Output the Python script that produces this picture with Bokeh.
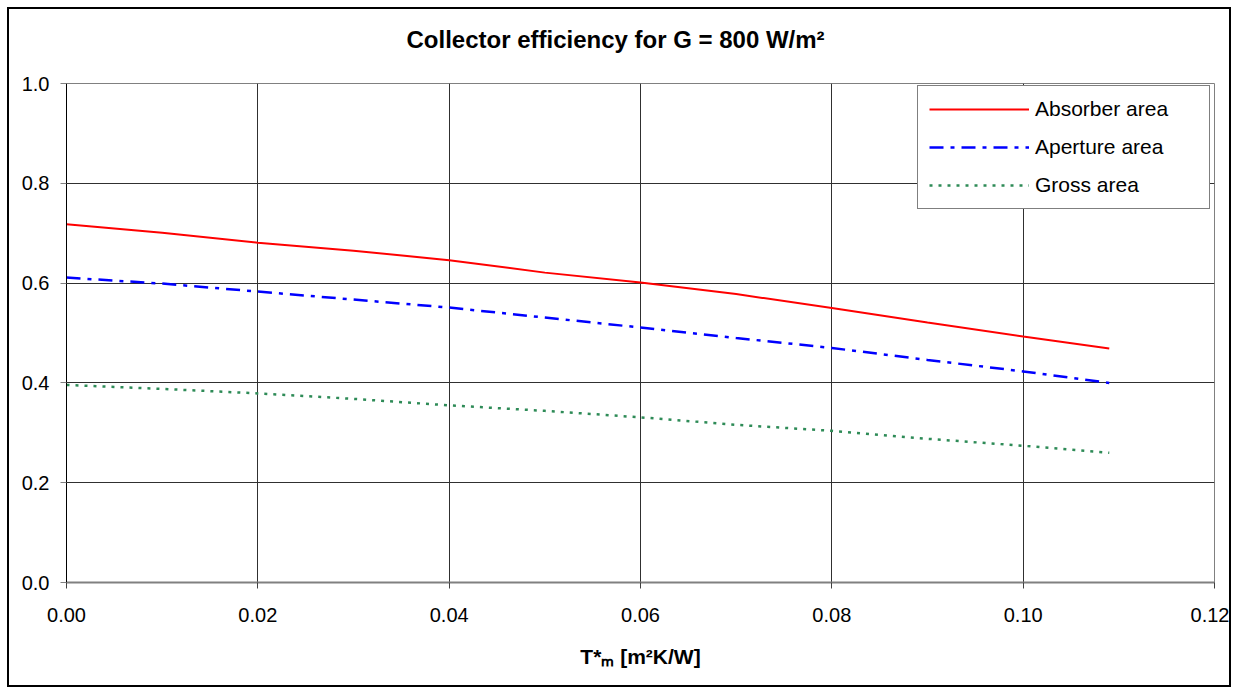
from bokeh.plotting import figure
from bokeh.models import (Range1d, FixedTicker, NumeralTickFormatter, Legend, LegendItem, Title)
from bokeh.embed import file_html
from bokeh.resources import INLINE

# ---- data ----
t_m = [0.0, 0.01, 0.02, 0.03, 0.04, 0.05, 0.06, 0.07, 0.08, 0.09, 0.10, 0.109]
absorber = [0.718, 0.701, 0.681, 0.665, 0.646, 0.621, 0.601, 0.578, 0.550, 0.521, 0.493, 0.469]
aperture = [0.611, 0.599, 0.583, 0.567, 0.551, 0.531, 0.511, 0.490, 0.470, 0.446, 0.423, 0.400]
gross = [0.396, 0.388, 0.379, 0.368, 0.355, 0.344, 0.331, 0.316, 0.304, 0.288, 0.274, 0.260]

x_ticks = [0.0, 0.02, 0.04, 0.06, 0.08, 0.10, 0.12]
y_ticks = [0.0, 0.2, 0.4, 0.6, 0.8, 1.0]

title_text = "Collector efficiency for G = 800 W/m²"
x_label = "T*ₘ [m²K/W]"
series_names = ["Absorber area", "Aperture area", "Gross area"]

FONT = "Liberation Sans"

p = figure(width=1224, height=680, output_backend="svg", toolbar_location=None,
           x_range=Range1d(0, 0.12), y_range=Range1d(0, 1.0),
           min_border_left=57, min_border_top=74, min_border_right=19, min_border_bottom=107,
           styles={"border": "2px solid black", "margin-left": "7px", "margin-top": "7px"})
p.background_fill_color = "white"
p.border_fill_color = "white"
p.outline_line_color = "#808080"
p.outline_line_width = 1

# title
p.title.text = title_text
p.title.align = "left"
p.title.offset = 340
p.title.standoff = 0
p.title.text_font = FONT
p.title.text_font_size = "24px"
p.title.text_font_style = "bold"
p.title.text_color = "black"

# spacer between the title and the frame (added last, so it sits next to the frame)
spacer = Title(text=" ", text_font_size="1px", standoff=28)
p.add_layout(spacer, "above")

# axes
p.xaxis.ticker = FixedTicker(ticks=x_ticks)
p.yaxis.ticker = FixedTicker(ticks=y_ticks)
p.xaxis.formatter = NumeralTickFormatter(format="0.00")
p.yaxis.formatter = NumeralTickFormatter(format="0.0")
for ax in (p.xaxis[0], p.yaxis[0]):
    ax.major_label_text_font = FONT
    ax.major_label_text_font_size = "20px"
    ax.major_label_text_color = "black"
    ax.minor_tick_line_color = None
    ax.major_tick_in = 0
    ax.major_tick_out = 6
p.xaxis.axis_line_color = "#808080"
p.xaxis.axis_line_width = 2
p.xaxis.major_tick_line_color = "#404040"
p.yaxis.axis_line_color = "black"
p.yaxis.major_tick_line_color = "#808080"
p.xaxis.major_label_standoff = 19
p.yaxis.major_label_standoff = 11

p.xaxis.axis_label = x_label
p.xaxis.axis_label_text_font = FONT
p.xaxis.axis_label_text_font_size = "21px"
p.xaxis.axis_label_text_font_style = "bold"
p.xaxis.axis_label_text_color = "black"
p.xaxis.axis_label_standoff = 20

p.xgrid.grid_line_color = "#303030"
p.ygrid.grid_line_color = "#303030"
p.xgrid.grid_line_width = 1
p.ygrid.grid_line_width = 1

# series
r1 = p.line(t_m, absorber, line_color="#FF0000", line_width=2)
r2 = p.line(t_m, aperture, line_color="#0000FF", line_width=2.5, line_dash="14 7 4 7")
r3 = p.line(t_m, gross, line_color="#2E8B57", line_width=2.5, line_dash="3 6")

legend = Legend(items=[LegendItem(label=series_names[0], renderers=[r1]),
                       LegendItem(label=series_names[1], renderers=[r2]),
                       LegendItem(label=series_names[2], renderers=[r3])],
                location=(851, 373))
legend.label_text_font = FONT
legend.label_text_font_size = "21px"
legend.label_text_color = "black"
legend.glyph_width = 100
legend.label_standoff = 6
legend.label_width = 163
legend.label_height = 23
legend.spacing = 14
legend.padding = 11
legend.margin = 0
legend.border_line_color = "black"
legend.border_line_width = 1
legend.background_fill_color = "white"
legend.background_fill_alpha = 1.0
p.add_layout(legend, "center")

open("out.html", "w").write(file_html(p, INLINE))
